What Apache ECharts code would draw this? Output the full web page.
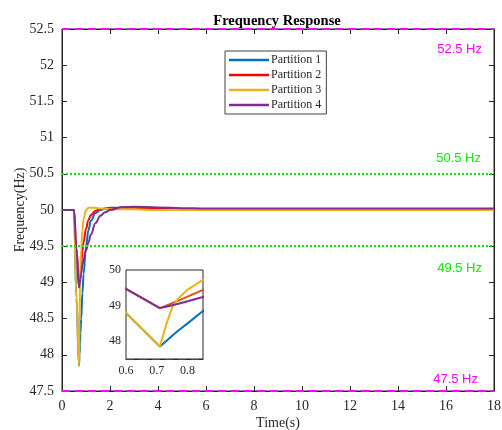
<!DOCTYPE html>
<html>
<head>
<meta charset="utf-8">
<script src="https://cdn.jsdelivr.net/npm/echarts@6/dist/echarts.min.js"></script>
<style>
  html, body { margin: 0; padding: 0; background: #fff; }
  #chart { width: 502px; height: 430px; }
</style>
</head>
<body>
<div id="chart"></div>
<script>
// time samples (s)
var times = [0, 0.5, 0.6, 0.71, 0.73, 0.75, 0.77, 0.8, 0.85, 0.9, 1.0, 1.1, 1.2, 1.4, 1.6, 1.8, 2.0, 2.5, 3.0, 4.0, 5.0, 6.0, 8.0, 18];
// frequency per partition (Hz)
var partition1 = [50, 50, 48.79, 47.85, 48.0, 48.15, 48.3, 48.5, 48.85, 49.12, 49.5, 49.72, 49.85, 49.96, 50.0, 50.02, 50.03, 50.03, 50.03, 50.02, 50.01, 50.01, 50.01, 50.01];
var partition2 = [50, 50, 49.47, 48.93, 49.0, 49.07, 49.14, 49.25, 49.44, 49.56, 49.74, 49.86, 49.93, 49.99, 50.01, 50.02, 50.02, 50.03, 50.03, 50.02, 50.01, 50.01, 50.01, 50.01];
var partition3 = [50, 50, 48.79, 47.85, 48.45, 48.95, 49.2, 49.45, 49.72, 49.88, 50.0, 50.03, 50.03, 50.03, 50.02, 50.02, 50.01, 50.01, 50.01, 50.0, 50.0, 50.0, 50.0, 50.0];
var partition4 = [50, 50, 49.47, 48.93, 48.97, 49.01, 49.05, 49.12, 49.24, 49.32, 49.44, 49.55, 49.66, 49.82, 49.92, 49.97, 50.0, 50.04, 50.045, 50.035, 50.025, 50.02, 50.02, 50.02];
var seriesNames = ['Partition 1', 'Partition 2', 'Partition 3', 'Partition 4'];
var seriesColors = ['#0072BD', '#FF0000', '#EDB120', '#7E2F8E'];
var insetColors = ['#0072BD', '#D95319', '#EDB120', '#7E2F8E'];
var limitHigh = [52.5, 47.5];   // magenta dashed limits
var limitWarn = [50.5, 49.5];   // green dotted limits
var yTicksInset = [48, 49, 50];

var serif = 'Liberation Serif';
var axisCol = '#262626';

function pairs(vals) {
  return times.map(function (t, i) { return [t, vals[i]]; });
}

var values = [partition1, partition2, partition3, partition4];

var magenta = { color: '#FF00FF', type: [8, 5], width: 2 };
var green = { color: '#00EE00', type: [2, 2], width: 2 };
var limitLines = {
  silent: true,
  symbol: ['none', 'none'],
  data: [
    { yAxis: limitHigh[0], lineStyle: magenta,
      label: { formatter: '52.5 Hz', position: 'insideEndBottom', distance: [12, 14], color: '#FF00FF' } },
    { yAxis: limitHigh[1], lineStyle: magenta,
      label: { formatter: '47.5 Hz', position: 'insideEndTop', distance: [16, 5], color: '#FF00FF' } },
    { yAxis: limitWarn[0], lineStyle: green,
      label: { formatter: '50.5 Hz', position: 'insideEndTop', distance: [13, 9], color: '#00EE00' } },
    { yAxis: limitWarn[1], lineStyle: green,
      label: { formatter: '49.5 Hz', position: 'insideEndBottom', distance: [12, 16], color: '#00EE00' } }
  ],
  label: { fontFamily: 'Liberation Sans', fontSize: 13 }
};

var series = [];
values.forEach(function (v, i) {
  var s = {
    name: seriesNames[i],
    type: 'line',
    xAxisIndex: 0,
    yAxisIndex: 0,
    data: pairs(v),
    symbol: 'none',
    smooth: 0.4,
    smoothMonotone: 'x',
    lineStyle: { width: 2, color: seriesColors[i] },
    itemStyle: { color: seriesColors[i] },
    z: 3
  };
  if (i === 0) s.markLine = limitLines;
  series.push(s);
});
// zoomed inset
values.forEach(function (v, i) {
  var s = {
    type: 'line',
    xAxisIndex: 2,
    yAxisIndex: 2,
    data: pairs(v),
    symbol: 'none',
    lineStyle: { width: 2, color: insetColors[i] },
    z: 10
  };
  if (i === 0) s.markLine = {
    silent: true,
    symbol: ['none', 'none'],
    data: [{ yAxis: limitHigh[1] }],
    lineStyle: magenta,
    label: { show: false }
  };
  series.push(s);
});

var tickIn = { show: true, inside: true, length: 5, lineStyle: { color: axisCol } };
var lineAx = { show: true, onZero: false, lineStyle: { color: axisCol, width: 1 } };
var labelSty = { color: axisCol, fontFamily: serif, fontSize: 14 };

var option = {
  animation: false,
  backgroundColor: '#fff',
  title: {
    text: 'Frequency Response',
    left: 272,
    top: 9,
    textAlign: 'center',
    textStyle: { fontFamily: serif, fontWeight: 'bold', fontSize: 14.5, color: '#000' }
  },
  legend: {
    data: seriesNames,
    orient: 'vertical',
    left: 225,
    top: 51,
    icon: 'rect',
    itemWidth: 40,
    itemHeight: 2.5,
    itemGap: 3,
    padding: [3, 5, 3, 4],
    backgroundColor: '#fff',
    borderColor: '#404040',
    borderWidth: 1,
    textStyle: { fontFamily: serif, fontSize: 12, color: axisCol, padding: [0, 0, 0, -3] }
  },
  grid: [
    { left: 62, right: 8, top: 29, bottom: 39, outerBoundsMode: 'none', show: true,
      borderColor: axisCol, borderWidth: 1, backgroundColor: '#fff' },
    { left: 126, top: 270, width: 77, height: 89, outerBoundsMode: 'none', show: true,
      borderColor: axisCol, borderWidth: 1, backgroundColor: '#fff', z: 8 }
  ],
  xAxis: [
    { type: 'value', gridIndex: 0, min: 0, max: 18, interval: 2, position: 'bottom',
      axisLine: lineAx, axisTick: tickIn, splitLine: { show: false },
      axisLabel: labelSty,
      name: 'Time(s)', nameLocation: 'middle', nameGap: 25, nameMoveOverlap: false,
      nameTextStyle: { fontFamily: serif, fontSize: 14, color: axisCol } },
    { type: 'value', gridIndex: 0, min: 0, max: 18, interval: 2, position: 'top',
      axisLine: lineAx, axisTick: tickIn, splitLine: { show: false }, axisLabel: { show: false } },
    { type: 'value', gridIndex: 1, min: 0.6, max: 0.85, interval: 0.1, position: 'bottom',
      axisLine: lineAx, axisTick: { show: true, inside: true, length: 3, lineStyle: { color: axisCol } },
      splitLine: { show: false },
      axisLabel: { color: axisCol, fontFamily: serif, fontSize: 12, margin: 6, showMaxLabel: false } }
  ],
  yAxis: [
    { type: 'value', gridIndex: 0, min: 47.5, max: 52.5, interval: 0.5, position: 'left',
      axisLine: lineAx, axisTick: tickIn, splitLine: { show: false },
      axisLabel: labelSty,
      name: 'Frequency(Hz)', nameLocation: 'middle', nameGap: 35, nameMoveOverlap: false,
      nameTextStyle: { fontFamily: serif, fontSize: 14, color: axisCol } },
    { type: 'value', gridIndex: 0, min: 47.5, max: 52.5, interval: 0.5, position: 'right',
      axisLine: lineAx, axisTick: tickIn, splitLine: { show: false }, axisLabel: { show: false } },
    { type: 'value', gridIndex: 1, min: 47.5, max: 50, position: 'left',
      axisLine: lineAx,
      axisTick: { show: true, inside: true, length: 3, lineStyle: { color: axisCol }, customValues: yTicksInset },
      splitLine: { show: false },
      axisLabel: { color: axisCol, fontFamily: serif, fontSize: 12, margin: 5, customValues: yTicksInset } }
  ],
  series: series
};

var myChart = echarts.init(document.getElementById('chart'));
myChart.setOption(option);
</script>
</body>
</html>
